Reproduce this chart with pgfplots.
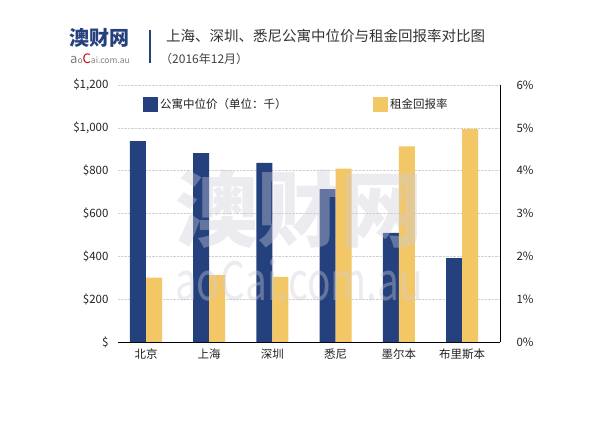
\documentclass[border=0pt]{standalone}
\usepackage{fontspec}
\setmainfont{Noto Sans CJK SC}
\usepackage{graphicx}
\usepackage{pgfplots}
\pgfplotsset{compat=1.18}
\definecolor{navy}{HTML}{25417D}
\definecolor{gold}{HTML}{F4C766}
\definecolor{wm}{RGB}{205,205,218}
\definecolor{tickc}{HTML}{222222}
\begin{document}
\begin{tikzpicture}[x=1pt,y=1pt]
\fill[white] (0,0) rectangle (600,426);
% header
\node[anchor=west, inner sep=0, text=navy, font=\fontsize{20}{20}\selectfont\bfseries] at (69,388) {澳财网};
\node[anchor=west, inner sep=0, text=gray, font=\fontsize{8.5}{9}\selectfont] at (70,367) {{\fontsize{13}{13}\selectfont a}o{\color{red!80!black}\fontsize{13}{13}\selectfont C}ai.com.au};
\draw[navy, line width=1.2pt] (150,396) -- (150,363);
\node[anchor=west, inner sep=0, text=black!80, font=\fontsize{14.5}{15}\selectfont] at (166,390) {上海、深圳、悉尼公寓中位价与租金回报率对比图};
\node[anchor=west, inner sep=0, text=black!75, font=\fontsize{12}{12}\selectfont] at (160,367) {（2016年12月）};

\pgfplotsset{common/.style={
  scale only axis, width=382pt, height=257pt,
  at={(118pt,84pt)}, anchor=south west,
  xmin=-0.443, xmax=5.601,
  xtick={0,...,5},
  major tick length=0pt,
  ticklabel style={font=\fontsize{11.5}{12}\selectfont, text=tickc},
  legend style={draw=none, fill=none, inner sep=0pt, font=\fontsize{11.5}{12}\selectfont, text=tickc},
  legend cell align=left,
}}

\begin{axis}[common,
  ymin=0, ymax=1200,
  ytick={0,200,...,1200},
  yticklabels={\$,\$200,\$400,\$600,\$800,{\$1,000},{\$1,200}},
  xticklabels={北京,上海,深圳,悉尼,墨尔本,布里斯本},
  xticklabel style={yshift=-3pt},
  yticklabel style={xshift=-6pt},
  axis x line*=bottom, axis y line*=left,
  y axis line style={draw=none},
  x axis line style={black, line width=0.9pt},
  ymajorgrids, grid style={densely dotted, black!18},
  legend style={at={(rel axis cs:0.0654,0.924)}, anchor=west},
]
\addplot[ybar, fill=navy, draw=none, bar width=16pt, bar shift=-8pt,
  legend image code/.code={\fill[navy] (0pt,-7.5pt) rectangle (15pt,7.5pt);}]
  coordinates {(0,938) (1,882) (2,836) (3,714) (4,509) (5,392)};
\addlegendentry{公寓中位价（单位：千）}
\end{axis}

\begin{axis}[common,
  ymin=0, ymax=6,
  ytick={0,1,...,6},
  yticklabels={0\%,1\%,2\%,3\%,4\%,5\%,6\%},
  yticklabel style={xshift=13pt},
  axis y line*=right, axis x line=none,
  y axis line style={black, line width=0.9pt},
  xticklabels={},
  legend style={at={(rel axis cs:0.6675,0.924)}, anchor=west},
]
\addplot[ybar, fill=gold, draw=none, bar width=16pt, bar shift=8pt,
  legend image code/.code={\fill[gold] (0pt,-7.5pt) rectangle (15pt,7.5pt);}]
  coordinates {(0,1.50) (1,1.56) (2,1.52) (3,4.05) (4,4.57) (5,4.97)};
\addlegendentry{租金回报率}
\end{axis}

% watermark
\node[text=wm, opacity=0.38, inner sep=0] at (299,217) {\resizebox{248pt}{!}{\fontsize{80}{80}\selectfont\bfseries 澳财网}};
\node[text=wm, opacity=0.38, inner sep=0] at (299,146) {\resizebox{248pt}{41pt}{\fontsize{50}{50}\selectfont aoCai.com.au}};
\end{tikzpicture}
\end{document}
